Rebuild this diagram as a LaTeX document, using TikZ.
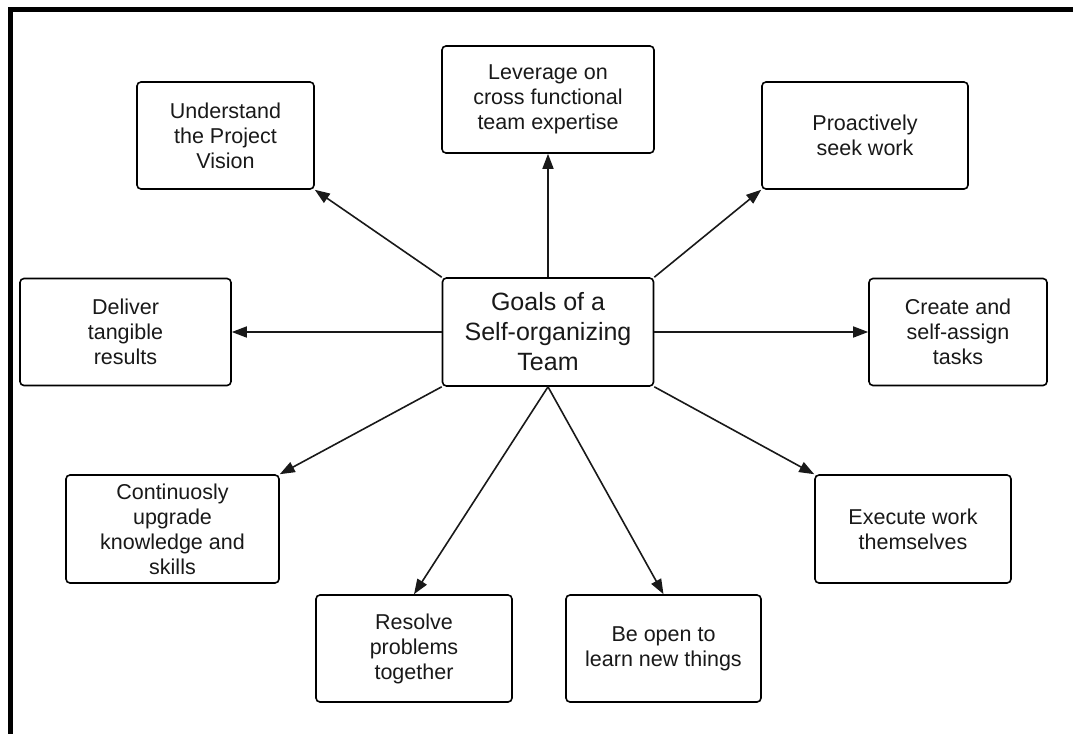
\documentclass[tikz,border=0pt]{standalone}
\usepackage{fontspec}
\setmainfont{Liberation Sans}
\usetikzlibrary{arrows.meta}
\tikzset{
  goalbox/.style={draw=black, line width=1.6pt, rounded corners=4pt, align=center, inner sep=0pt,
    font=\fontsize{21.5}{25}\selectfont, text=black!90},
  centerbox/.style={goalbox, font=\fontsize{25}{30}\selectfont},
  link/.style={draw=black!90, line width=1.6pt, -{Triangle[length=15pt,width=11pt]}},
  frameline/.style={line width=4.5pt, black}
}
\begin{document}
\begin{tikzpicture}[x=1pt,y=-1pt]
\useasboundingbox (0,0) rectangle (1073,734);
\fill[white] (0,0) rectangle (1073,734);
\draw[frameline] (8,9.5) -- (1073,9.5);
\draw[frameline] (10.5,7) -- (10.5,734);

\node[centerbox, minimum width=211pt, minimum height=108pt] (c) at (548,332) {Goals of a\\Self-organizing\\Team};

\node[goalbox, minimum width=177pt, minimum height=107pt] (u) at (225.5,135.5) {Understand\\the Project\\Vision};
\node[goalbox, minimum width=212pt, minimum height=107pt] (l) at (548,99.5) {Leverage on\\cross functional\\team expertise};
\node[goalbox, minimum width=206pt, minimum height=107pt] (p) at (865,135.5) {Proactively\\seek work};
\node[goalbox, minimum width=211pt, minimum height=107pt] (d) at (125.5,332) {Deliver\\tangible\\results};
\node[goalbox, minimum width=178pt, minimum height=107pt] (cr) at (958,332) {Create and\\self-assign\\tasks};
\node[goalbox, minimum width=213pt, minimum height=108pt] (co) at (172.5,529) {Continuosly\\upgrade\\knowledge and\\skills};
\node[goalbox, minimum width=196pt, minimum height=108pt] (e) at (913,529) {Execute work\\themselves};
\node[goalbox, minimum width=196pt, minimum height=107pt] (r) at (414,648.5) {Resolve\\problems\\together};
\node[goalbox, minimum width=195pt, minimum height=107pt] (b) at (663.5,648.5) {Be open to\\learn new things};

\draw[link] (c.north) -- (l.south);
\draw[link] (c.north west) -- (u.south east);
\draw[link] (c.north east) -- (p.south west);
\draw[link] (c.west) -- (d.east);
\draw[link] (c.east) -- (cr.west);
\draw[link] (c.south west) -- (co.north east);
\draw[link] (c.south east) -- (e.north west);
\draw[link] (c.south) -- (r.north);
\draw[link] (c.south) -- (b.north);
\end{tikzpicture}
\end{document}
